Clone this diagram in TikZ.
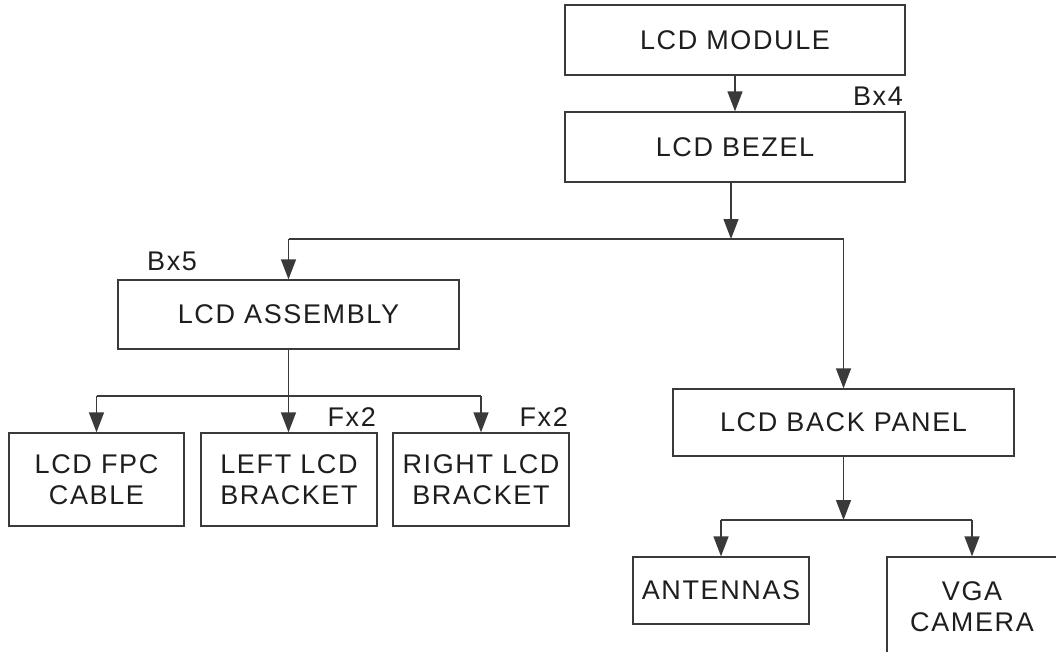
\documentclass[tikz,border=0pt]{standalone}
\usepackage{fontspec}
\setmainfont{Liberation Sans}[LetterSpace=6]
\usetikzlibrary{arrows.meta}
\definecolor{lncol}{HTML}{3A3A3A}
\definecolor{txcol}{HTML}{1E1E1E}
\tikzset{
  box/.style={draw=lncol, line width=1.3pt, inner sep=0pt, align=center, text=txcol,
    font=\fontsize{27}{31}\selectfont},
  qty/.style={inner sep=0pt, text=txcol, font=\fontsize{27}{31}\selectfont},
  conn/.style={draw=lncol, line width=1.3pt},
  arr/.style={conn, -{Triangle[length=20pt,width=15pt]}},
}
\begin{document}
\begin{tikzpicture}[x=1pt,y=-1pt]
\useasboundingbox (0,0) rectangle (1056,651);
\fill[white] (0,0) rectangle (1056,651);
% boxes
\node[box, minimum width=340pt, minimum height=70pt] (mod) at (735,40) {LCD MODULE};
\node[box, minimum width=340pt, minimum height=70pt] (bez) at (735,147) {LCD BEZEL};
\node[box, minimum width=341pt, minimum height=69pt] (asm) at (288.5,314.5) {LCD ASSEMBLY};
\node[box, minimum width=175pt, minimum height=93pt] (fpc) at (96.5,479.5) {LCD FPC\\CABLE};
\node[box, minimum width=176pt, minimum height=93pt] (lb) at (289,479.5) {LEFT LCD\\BRACKET};
\node[box, minimum width=176pt, minimum height=93pt] (rb) at (481,479.5) {RIGHT LCD\\BRACKET};
\node[box, minimum width=341pt, minimum height=67pt] (bp) at (843.5,422.5) {LCD BACK PANEL};
\node[box, minimum width=176pt, minimum height=67pt] (ant) at (721,590.5) {ANTENNAS};
\node[box, minimum width=170pt, minimum height=100pt] (vga) at (972,607) {VGA\\CAMERA};
% quantity labels
\node[qty, anchor=base east] (bx4) at (903,105) {Bx4};
\node[qty, anchor=base west] (bx5) at (147,270) {Bx5};
\node[qty, anchor=base east] (fx2a) at (376,426) {Fx2};
\node[qty, anchor=base east] (fx2b) at (568,426) {Fx2};
% junctions
\coordinate (j1) at (731,239);
\coordinate (j2) at (289,396);
\coordinate (j3) at (843.5,520);
% connectors
\draw[arr] (mod.south) -- (bez.south |- mod.south) -- (bez.north);
\draw[arr] (j1 |- bez.south) -- (j1);
\draw[conn] (asm.north |- j1) -- (bp.north |- j1);
\draw[arr] (asm.north |- j1) -- (asm.north);
\draw[arr] (bp.north |- j1) -- (bp.north);
\draw[conn] (fpc.north |- j2) -- (rb.north |- j2);
\draw[arr] (asm.south) -- (asm.south |- lb.north);
\draw[arr] (fpc.north |- j2) -- (fpc.north);
\draw[arr] (rb.north |- j2) -- (rb.north);
\draw[arr] (bp.south) -- (j3);
\draw[conn] (ant.north |- j3) -- (vga.north |- j3);
\draw[arr] (ant.north |- j3) -- (ant.north);
\draw[arr] (vga.north |- j3) -- (vga.north);
\end{tikzpicture}
\end{document}
